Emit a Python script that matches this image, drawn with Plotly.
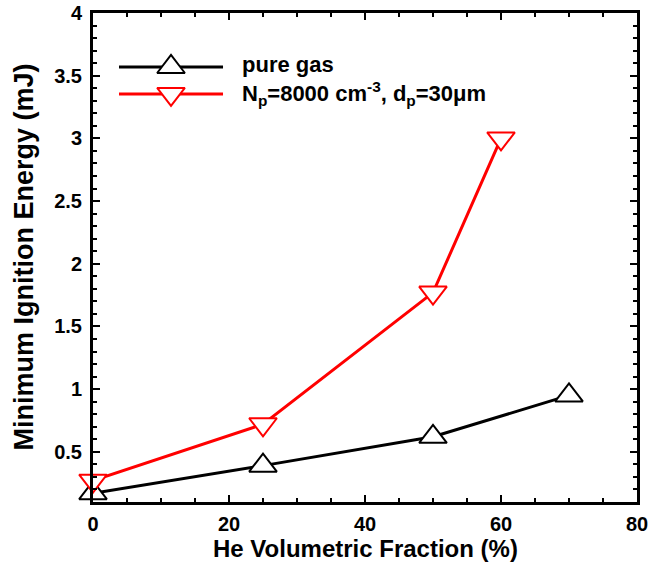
import plotly.graph_objects as go

# He volumetric fraction (%) and minimum ignition energy (mJ)
he_pure = [0, 25, 50, 70]
mie_pure = [0.17, 0.39, 0.62, 0.95]

he_particle = [0, 25, 50, 60]
mie_particle = [0.27, 0.72, 1.77, 3.0]

label_pure = "pure gas"
label_particle = "N<sub>p</sub>=8000 cm<sup>-3</sup>, d<sub>p</sub>=30\u03bcm"

x_ticks = [0, 20, 40, 60, 80]
x_tick_text = ["0", "20", "40", "60", "80"]
y_ticks = [0.5, 1, 1.5, 2, 2.5, 3, 3.5, 4]
y_tick_text = ["0.5", "1", "1.5", "2", "2.5", "3", "3.5", "4"]

FONT = "Liberation Sans, Arial, sans-serif"
MSIZE = 24

fig = go.Figure()

fig.add_trace(go.Scatter(
    x=he_pure, y=mie_pure, mode="lines+markers",
    line=dict(color="black", width=3),
    marker=dict(symbol="triangle-up", size=MSIZE, color="white",
                line=dict(color="black", width=2)),
    showlegend=False, cliponaxis=False,
))
fig.add_trace(go.Scatter(
    x=he_particle, y=mie_particle, mode="lines+markers",
    line=dict(color="#ff0000", width=3),
    marker=dict(symbol="triangle-down", size=MSIZE, color="white",
                line=dict(color="#ff0000", width=2)),
    showlegend=False, cliponaxis=False,
))

# Legend samples on an overlay axis spanning the plot area (0..1 in both directions)
leg_x = [0.0478, 0.1434, 0.2390]
leg_y = [0.8896, 0.8344]
for y, col, sym in [(leg_y[0], "black", "triangle-up"), (leg_y[1], "#ff0000", "triangle-down")]:
    fig.add_trace(go.Scatter(
        x=leg_x, y=[y, y, y], mode="lines", xaxis="x2", yaxis="y2",
        line=dict(color=col, width=3), showlegend=False, hoverinfo="skip",
    ))
    fig.add_trace(go.Scatter(
        x=[leg_x[1]], y=[y], mode="markers", xaxis="x2", yaxis="y2",
        marker=dict(symbol=sym, size=MSIZE, color="white", line=dict(color=col, width=2)),
        showlegend=False, hoverinfo="skip", cliponaxis=False,
    ))

for y, txt in [(0.8957, label_pure), (0.8344, label_particle)]:
    fig.add_annotation(
        x=0.2702, y=y, xref="paper", yref="paper", text="<b>" + txt + "</b>",
        showarrow=False, xanchor="left", yanchor="middle",
        font=dict(family=FONT, size=22, color="black"),
    )

# Axis titles
fig.add_annotation(
    x=0.5, y=-61 / 489, xref="paper", yref="paper",
    text="<b>He Volumetric Fraction (%)</b>", showarrow=False,
    xanchor="center", yanchor="bottom", borderpad=0,
    font=dict(family=FONT, size=24, color="black"),
)
fig.add_annotation(
    x=-70 / 544, y=0.5, xref="paper", yref="paper",
    text="<b>Minimum Ignition Energy (mJ)</b>", showarrow=False, textangle=-90,
    xanchor="center", yanchor="middle",
    font=dict(family=FONT, size=27, color="black"),
)

axis_common = dict(
    showline=True, linecolor="black", linewidth=3, mirror="ticks",
    ticks="inside", ticklen=7, tickwidth=2, tickcolor="black",
    showgrid=False, zeroline=False, automargin=False,
    tickfont=dict(family=FONT, size=20, color="black", weight="bold"),
)

fig.update_layout(
    width=650, height=564,
    margin=dict(l=93, r=13, t=13, b=62, autoexpand=False),
    paper_bgcolor="white", plot_bgcolor="white",
    xaxis=dict(
        range=[0, 80], tickvals=x_ticks, ticktext=x_tick_text,
        minor=dict(dtick=5, ticks="inside", ticklen=4, tickwidth=1.5, tickcolor="black"),
        ticklabelstandoff=2,
        **axis_common,
    ),
    yaxis=dict(
        range=[0.1, 4], tickvals=y_ticks, ticktext=y_tick_text,
        minor=dict(dtick=0.1, tick0=0, ticks="inside", ticklen=4, tickwidth=1.5, tickcolor="black"),
        ticklabelstandoff=4,
        **axis_common,
    ),
    xaxis2=dict(range=[0, 1], overlaying="x", visible=False, fixedrange=True),
    yaxis2=dict(range=[0, 1], overlaying="y", visible=False, fixedrange=True),
)

fig.write_html("out.html")
